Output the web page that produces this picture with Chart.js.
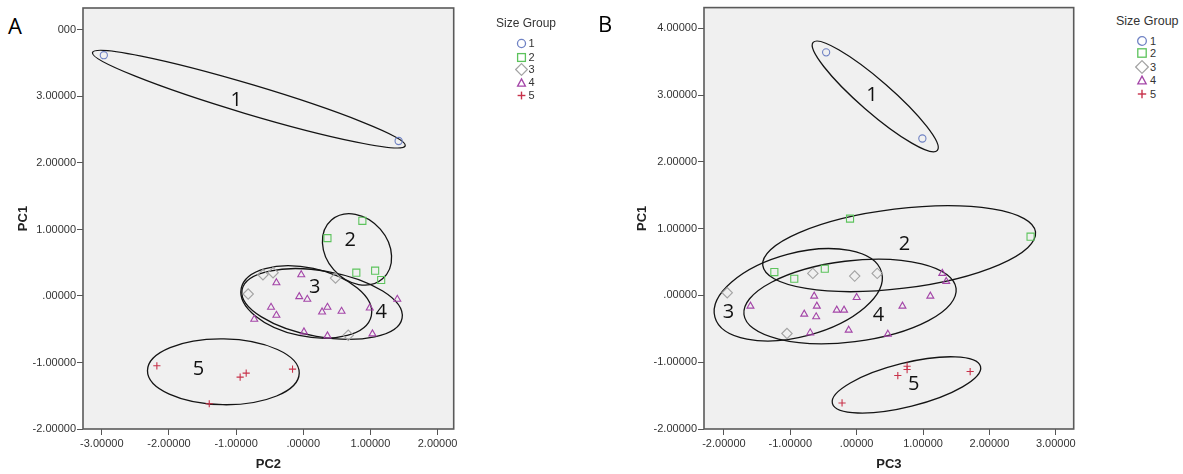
<!DOCTYPE html>
<html><head><meta charset="utf-8">
<script src="https://cdn.jsdelivr.net/npm/chart.js@4.4.1/dist/chart.umd.min.js"></script>
<style>
html,body{margin:0;padding:0;background:#fff;}
body{width:1183px;height:474px;overflow:hidden;position:relative;font-family:"Liberation Sans",Arial,sans-serif;}
.wrap{position:absolute;top:0;height:474px;}
#wa{left:0;width:460px;}
#wb{left:600px;width:480px;}
.panel{position:absolute;font-family:"Open Sans",sans-serif;font-size:22px;line-height:1;color:#000;background:#fff;z-index:5;}
.legend{position:absolute;color:#333;font-size:12px;z-index:5;}
.legend .t{white-space:nowrap;}
.legend .it{position:absolute;height:13px;display:flex;align-items:center;font-size:11px;white-space:nowrap;}
.legend svg{display:block;margin-right:1px;}
</style>
</head><body>
<div class="wrap" id="wa"><canvas id="ca"></canvas></div>
<div class="wrap" id="wb"><canvas id="cb"></canvas></div>
<div class="panel" style="left:0;top:0;width:58px;height:45px;"><span style="position:absolute;left:8px;top:14px;">A</span></div>
<div class="panel" style="left:596px;top:0;width:24px;height:40px;background:transparent;"><span style="position:absolute;left:2px;top:12px;">B</span></div>
<div class="legend" id="la" style="left:496px;top:16px;"></div>
<div class="legend" id="lb" style="left:1116px;top:14px;font-size:12.5px;"></div>
<script>
// ---------- data ----------
const groupNames = ['1','2','3','4','5'];

// Panel A : x = PC2, y = PC1
const A_g1_x = [-2.97, 1.42];
const A_g1_y = [3.62, 2.33];
const A_g2_x = [0.88, 0.36, 0.79, 1.07, 1.16];
const A_g2_y = [1.13, 0.87, 0.35, 0.38, 0.24];
const A_g3_x = [-0.82, -0.60, -0.45, 0.48, 0.67];
const A_g3_y = [0.03, 0.32, 0.35, 0.27, -0.59];
const A_g4_x = [-0.40, -0.03, -0.06, 0.06, -0.48, -0.40, -0.73, 0.28, 0.36, 0.57, 0.99, 1.40, 0.01, 0.36, 1.03];
const A_g4_y = [0.20, 0.32, -0.01, -0.05, -0.17, -0.29, -0.35, -0.24, -0.17, -0.23, -0.18, -0.05, -0.54, -0.60, -0.57];
const A_g5_x = [-2.18, -1.40, -0.94, -0.85, -0.16];
const A_g5_y = [-1.05, -1.62, -1.22, -1.16, -1.10];

// Panel B : x = PC3, y = PC1
const B_g1_x = [-0.46, 0.99];
const B_g1_y = [3.64, 2.35];
const B_g2_x = [-0.10, 2.62, -1.24, -0.94, -0.48];
const B_g2_y = [1.15, 0.88, 0.35, 0.25, 0.40];
const B_g3_x = [-1.95, -0.66, -0.03, 0.31, -1.05];
const B_g3_y = [0.04, 0.33, 0.29, 0.33, -0.57];
const B_g4_x = [-1.60, -0.64, -0.60, -0.79, -0.61, -0.30, -0.19, 0.00, -0.70, -0.12, 0.47, 0.69, 1.11, 1.29, 1.35];
const B_g4_y = [-0.16, -0.01, -0.16, -0.28, -0.32, -0.22, -0.22, -0.03, -0.56, -0.52, -0.58, -0.16, -0.01, 0.33, 0.21];
const B_g5_x = [-0.22, 0.62, 0.76, 0.76, 1.71];
const B_g5_y = [-1.61, -1.20, -1.06, -1.11, -1.14];

// group ellipses: centre x, centre y, semi-axis a, semi-axis b (axis units), tilt (deg), label
const A_ellipses = [
  [-0.81, 2.96, 2.43, 0.22, 16.6, '1'],
  [0.80, 0.70, 0.58, 0.46, 49, '2'],
  [0.045, -0.09, 0.99, 0.51, 12, '3'],
  [0.28, -0.12, 1.21, 0.49, 10, '4'],
  [-1.19, -1.14, 1.13, 0.49, 1, '5']
];
const A_ellipseLabels = [[-1.00, 2.94], [0.70, 0.84], [0.17, 0.13], [1.16, -0.25], [-1.56, -1.10]];
const B_ellipses = [
  [0.28, 2.98, 1.24, 0.24, 41, '1'],
  [0.64, 0.70, 2.07, 0.60, -7, '2'],
  [-0.88, 0.01, 1.30, 0.63, -15, '3'],
  [-0.10, -0.09, 1.61, 0.61, -7, '4'],
  [0.75, -1.34, 1.15, 0.33, -14, '5']
];
const B_ellipseLabels = [[0.23, 2.99], [0.72, 0.77], [-1.93, -0.25], [0.33, -0.30], [0.86, -1.33]];

// axes
const A_xTicks = [-3, -2, -1, 0, 1, 2];
const A_xTickLabels = ['-3.00000', '-2.00000', '-1.00000', '.00000', '1.00000', '2.00000'];
const A_yTicks = [-2, -1, 0, 1, 2, 3, 4];
const A_yTickLabels = ['-2.00000', '-1.00000', '.00000', '1.00000', '2.00000', '3.00000', '4.00000'];
const B_xTicks = [-2, -1, 0, 1, 2, 3];
const B_xTickLabels = ['-2.00000', '-1.00000', '.00000', '1.00000', '2.00000', '3.00000'];
const B_yTicks = [-2, -1, 0, 1, 2, 3, 4];
const B_yTickLabels = ['-2.00000', '-1.00000', '.00000', '1.00000', '2.00000', '3.00000', '4.00000'];
const A_range = {xmin: -3.28, xmax: 2.24, ymin: -2.0, ymax: 4.33};
const B_range = {xmin: -2.30, xmax: 3.27, ymin: -2.0, ymax: 4.31};

// ---------- styles ----------
const groupStyle = [
  {color: '#6f82c4', style: 'circle', r: 3.6},
  {color: '#5cc35c', style: 'rect', r: 5.0},
  {color: '#a3a3a3', style: 'rectRot', r: 5.2},
  {color: '#a446a8', style: 'triangle', r: 4.0},
  {color: '#c8324a', style: 'cross', r: 3.6}
];

function zip(xs, ys) { return xs.map((x, i) => ({x: x, y: ys[i]})); }

function buildDatasets(sets) {
  return sets.map((s, i) => ({
    label: groupNames[i],
    data: zip(s[0], s[1]),
    pointStyle: groupStyle[i].style,
    pointRadius: groupStyle[i].r,
    pointBorderColor: groupStyle[i].color,
    pointBackgroundColor: 'rgba(0,0,0,0)',
    pointBorderWidth: 1.1,
    showLine: false
  }));
}

const framePlugin = {
  id: 'frameEll',
  beforeDraw(chart) {
    const {ctx, chartArea: c} = chart;
    ctx.save();
    ctx.fillStyle = '#f0f0f0';
    ctx.fillRect(c.left, c.top, c.right - c.left, c.bottom - c.top);
    ctx.restore();
  },
  beforeDatasetsDraw(chart) {
    const o = chart.options.plugins.frameEll;
    const {ctx} = chart;
    const xs = chart.scales.x, ys = chart.scales.y;
    const ux = xs.getPixelForValue(1) - xs.getPixelForValue(0);
    ctx.save();
    ctx.strokeStyle = '#141414';
    ctx.lineWidth = 1.3;
    o.ellipses.forEach(e => {
      ctx.beginPath();
      ctx.ellipse(xs.getPixelForValue(e[0]), ys.getPixelForValue(e[1]), e[2] * ux, e[3] * ux, e[4] * Math.PI / 180, 0, Math.PI * 2);
      ctx.stroke();
    });
    ctx.fillStyle = '#111';
    ctx.font = '20px "Open Sans"';
    ctx.textAlign = 'center';
    ctx.textBaseline = 'middle';
    o.labels.forEach((p, i) => {
      ctx.fillText(o.ellipses[i][5], xs.getPixelForValue(p[0]), ys.getPixelForValue(p[1]));
    });
    ctx.restore();
  },
  afterDraw(chart) {
    const {ctx, chartArea: c} = chart;
    ctx.save();
    ctx.strokeStyle = '#5a5a5a';
    ctx.lineWidth = 1.6;
    ctx.strokeRect(c.left, c.top, c.right - c.left, c.bottom - c.top);
    ctx.restore();
  }
};

function makeChart(id, sets, range, xT, xL, yT, yL, xTitle, ells, labs, padLeft, padTop, yWidth) {
  const tickFont = {family: '"Liberation Sans", Arial, sans-serif', size: 11};
  const titleFont = {family: '"Liberation Sans", Arial, sans-serif', size: 13, weight: 'bold'};
  return new Chart(document.getElementById(id), {
    type: 'scatter',
    data: {datasets: buildDatasets(sets)},
    options: {
      responsive: true, maintainAspectRatio: false, animation: false,
      layout: {padding: {left: padLeft, top: padTop, right: 5, bottom: 0}},
      plugins: {legend: {display: false}, tooltip: {enabled: false}, frameEll: {ellipses: ells, labels: labs}},
      scales: {
        x: {
          type: 'linear', min: range.xmin, max: range.xmax,
          afterBuildTicks: ax => { ax.ticks = xT.map(v => ({value: v})); },
          afterFit: ax => { ax.height = 45; },
          ticks: {callback: v => xL[xT.indexOf(v)], font: tickFont, color: '#333', padding: 2, maxRotation: 0, autoSkip: false},
          grid: {display: true, drawOnChartArea: false, drawTicks: true, tickLength: 6, color: '#555', lineWidth: 1},
          border: {display: false},
          title: {display: true, text: xTitle, font: titleFont, color: '#222', padding: {top: 4, bottom: 2}}
        },
        y: {
          type: 'linear', min: range.ymin, max: range.ymax,
          afterBuildTicks: ax => { ax.ticks = yT.map(v => ({value: v})); },
          afterFit: ax => { ax.width = yWidth; },
          ticks: {callback: v => yL[yT.indexOf(v)], font: tickFont, color: '#333', padding: 1, autoSkip: false},
          grid: {display: true, drawOnChartArea: false, drawTicks: true, tickLength: 6, color: '#555', lineWidth: 1},
          border: {display: false},
          title: {display: true, text: 'PC1', font: titleFont, color: '#222', padding: {top: 4, bottom: 4}}
        }
      }
    },
    plugins: [framePlugin]
  });
}

makeChart('ca',
  [[A_g1_x, A_g1_y], [A_g2_x, A_g2_y], [A_g3_x, A_g3_y], [A_g4_x, A_g4_y], [A_g5_x, A_g5_y]],
  A_range, A_xTicks, A_xTickLabels, A_yTicks, A_yTickLabels, 'PC2', A_ellipses, A_ellipseLabels, 12, 8, 71);
makeChart('cb',
  [[B_g1_x, B_g1_y], [B_g2_x, B_g2_y], [B_g3_x, B_g3_y], [B_g4_x, B_g4_y], [B_g5_x, B_g5_y]],
  B_range, B_xTicks, B_xTickLabels, B_yTicks, B_yTickLabels, 'PC3', B_ellipses, B_ellipseLabels, 31, 7, 73);

// ---------- legends ----------
function markerSVG(i, size) {
  const s = groupStyle[i], c = s.color, h = size / 2;
  let shape = '';
  if (s.style === 'circle') shape = `<circle cx="${h}" cy="${h}" r="${h * 0.62}" fill="none" stroke="${c}" stroke-width="1.3"/>`;
  if (s.style === 'rect') shape = `<rect x="${h * 0.4}" y="${h * 0.4}" width="${h * 1.2}" height="${h * 1.2}" fill="none" stroke="${c}" stroke-width="1.3"/>`;
  if (s.style === 'rectRot') shape = `<polygon points="${h},${h * 0.1} ${size - h * 0.1},${h} ${h},${size - h * 0.1} ${h * 0.1},${h}" fill="none" stroke="${c}" stroke-width="1.2"/>`;
  if (s.style === 'triangle') shape = `<polygon points="${h},${h * 0.45} ${h * 1.6},${h * 1.55} ${h * 0.4},${h * 1.55}" fill="none" stroke="${c}" stroke-width="1.3"/>`;
  if (s.style === 'cross') shape = `<line x1="${h}" y1="${h * 0.4}" x2="${h}" y2="${h * 1.6}" stroke="${c}" stroke-width="1.4"/><line x1="${h * 0.4}" y1="${h}" x2="${h * 1.6}" y2="${h}" stroke="${c}" stroke-width="1.4"/>`;
  return `<svg width="${size}" height="${size}" viewBox="0 0 ${size} ${size}">${shape}</svg>`;
}
function buildLegend(id, markerLeft, rows, size) {
  const el = document.getElementById(id);
  let html = '<div class="t">Size Group</div>';
  groupNames.forEach((g, i) => {
    html += `<div class="it" style="left:${markerLeft - size / 2}px;top:${rows[i] - 6.5}px;">${markerSVG(i, size)}<span>${g}</span></div>`;
  });
  el.innerHTML = html;
}
buildLegend('la', 25, [27, 41, 53, 66, 79], 13);
buildLegend('lb', 26, [27, 39, 53, 66, 80], 14);
</script>
</body></html>
